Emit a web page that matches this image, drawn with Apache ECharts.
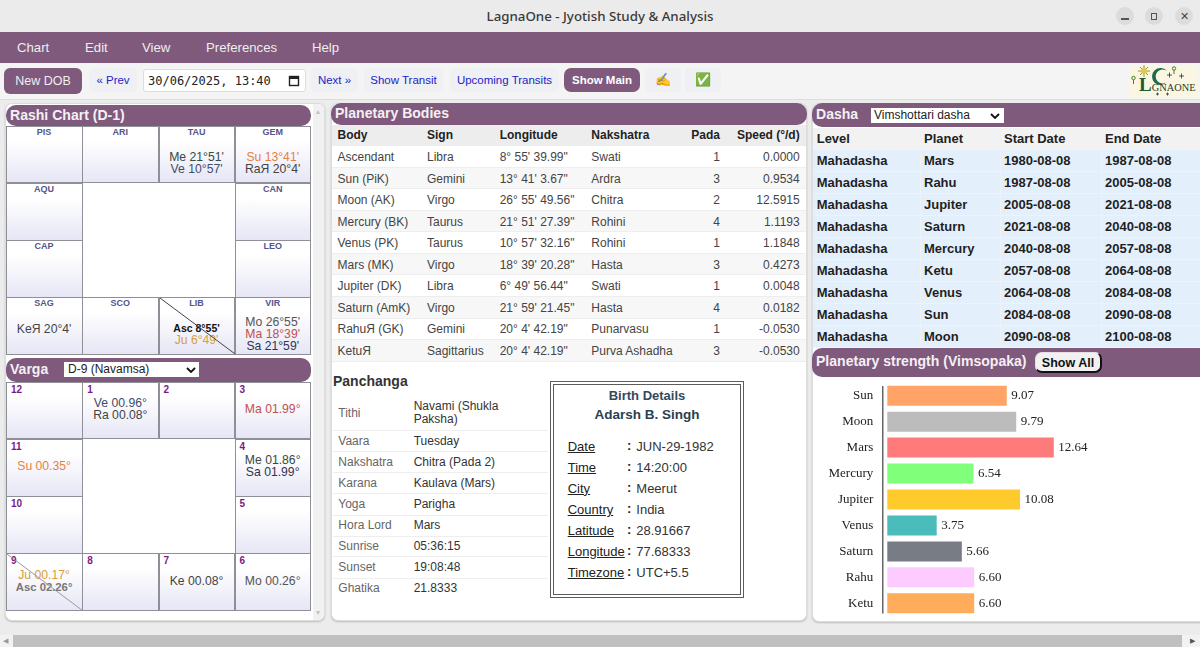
<!DOCTYPE html>
<html><head><meta charset="utf-8"><title>LagnaOne - Jyotish Study &amp; Analysis</title>
<script src="https://cdn.jsdelivr.net/npm/echarts@6/dist/echarts.min.js"></script>
<style>
html,body{margin:0;padding:0;width:1200px;height:647px;overflow:hidden;background:#ececec;font-family:"Liberation Sans",Arial,sans-serif;color:#333}
.a{position:absolute;white-space:nowrap}
.panel{position:absolute;background:#fff;border:1px solid #ddd;border-radius:7px;box-shadow:0 1px 2px #bbb;box-sizing:border-box}
.head{position:absolute;background:#805a7d;color:#f4f0f4;font-weight:bold;font-size:14.05px;border-radius:10px;box-sizing:border-box}
.btn{position:absolute;background:#eef0f3;color:#2323c8;font-size:11.5px;text-align:center;border-radius:5px;height:24px;line-height:24px;top:68px}
.cell{position:absolute;box-sizing:border-box;border:1px solid #8f8f98;background:linear-gradient(#fff 25%,#e6e6f6);text-align:center;overflow:hidden}
.sel{position:absolute;background:#fff;color:#222;font-size:12px;box-sizing:border-box;padding-left:4px}
u{text-underline-offset:1px}
</style></head><body>
<div id="root"></div>
<div id="strength" style="position:absolute;left:813px;top:378px;width:387px;height:243px"></div>
<script>
// ---- data ----
const strengthPlanets = ["Sun","Moon","Mars","Mercury","Jupiter","Venus","Saturn","Rahu","Ketu"];
const strengthValues = [9.07,9.79,12.64,6.54,10.08,3.75,5.66,6.60,6.60];
const strengthColors = ["#ffa366","#bcbcbc","#ff7b7b","#80ff7a","#ffca2c","#4bbcbc","#787c85","#fccbff","#ffad5a"];
const menuItems = [["Chart",17],["Edit",85],["View",142],["Preferences",206],["Help",312]];
const bodyHeader = ["Body","Sign","Longitude","Nakshatra","Pada","Speed (°/d)"];
const bodyRows = [
 ["Ascendant","Libra","8° 55' 39.99\"","Swati","1","0.0000"],
 ["Sun (PiK)","Gemini","13° 41' 3.67\"","Ardra","3","0.9534"],
 ["Moon (AK)","Virgo","26° 55' 49.56\"","Chitra","2","12.5915"],
 ["Mercury (BK)","Taurus","21° 51' 27.39\"","Rohini","4","1.1193"],
 ["Venus (PK)","Taurus","10° 57' 32.16\"","Rohini","1","1.1848"],
 ["Mars (MK)","Virgo","18° 39' 20.28\"","Hasta","3","0.4273"],
 ["Jupiter (DK)","Libra","6° 49' 56.44\"","Swati","1","0.0048"],
 ["Saturn (AmK)","Virgo","21° 59' 21.45\"","Hasta","4","0.0182"],
 ["RahuЯ (GK)","Gemini","20° 4' 42.19\"","Punarvasu","1","-0.0530"],
 ["KetuЯ","Sagittarius","20° 4' 42.19\"","Purva Ashadha","3","-0.0530"]];
const panchangaRows = [["Tithi","Navami (Shukla<br>Paksha)"],["Vaara","Tuesday"],["Nakshatra","Chitra (Pada 2)"],["Karana","Kaulava (Mars)"],["Yoga","Parigha"],["Hora Lord","Mars"],["Sunrise","05:36:15"],["Sunset","19:08:48"],["Ghatika","21.8333"]];
const birthRows = [["Date","JUN-29-1982"],["Time","14:20:00"],["City","Meerut"],["Country","India"],["Latitude","28.91667"],["Longitude","77.68333"],["Timezone","UTC+5.5"]];
const dashaHeader = ["Level","Planet","Start Date","End Date"];
const dashaRows = [["Mars","1980-08-08","1987-08-08"],["Rahu","1987-08-08","2005-08-08"],["Jupiter","2005-08-08","2021-08-08"],["Saturn","2021-08-08","2040-08-08"],["Mercury","2040-08-08","2057-08-08"],["Ketu","2057-08-08","2064-08-08"],["Venus","2064-08-08","2084-08-08"],["Sun","2084-08-08","2090-08-08"],["Moon","2090-08-08","2100-08-08"]];
const C = {Su:"#e9803c",Ma:"#c2514e",Me:"#3a4a40",Ve:"#3f4c68",Ra:"#444",Ju:"#d99c40",Sa:"#33334f",Mo:"#555",Ke:"#444",AscD:"#111",AscV:"#777"};
// [col,row,label,[[text,colorKey,boldSize]...],diagonal]
const rashiCells = [
 [0,0,"PIS",[]],[1,0,"ARI",[]],[2,0,"TAU",[["Me 21°51'","Me"],["Ve 10°57'","Ve"]]],[3,0,"GEM",[["Su 13°41'","Su"],["RaЯ 20°4'","Ra"]]],
 [0,1,"AQU",[]],[3,1,"CAN",[]],[0,2,"CAP",[]],[3,2,"LEO",[]],
 [0,3,"SAG",[["KeЯ 20°4'","Ke"]]],[1,3,"SCO",[]],[2,3,"LIB",[["Asc 8°55'","AscD",10.5],["Ju 6°49'","Ju"]],"#444"],[3,3,"VIR",[["Mo 26°55'","Mo"],["Ma 18°39'","Ma"],["Sa 21°59'","Sa"]]]];
const vargaCells = [
 [0,0,"12",[]],[1,0,"1",[["Ve 00.96°","Ve"],["Ra 00.08°","Ra"]]],[2,0,"2",[]],[3,0,"3",[["Ma 01.99°","Ma"]]],
 [0,1,"11",[["Su 00.35°","Su"]]],[3,1,"4",[["Me 01.86°","Me"],["Sa 01.99°","Sa"]]],[0,2,"10",[]],[3,2,"5",[]],
 [0,3,"9",[["Ju 00.17°","Ju"],["Asc 02.26°","AscV",11.3]],"#999"],[1,3,"8",[]],[2,3,"7",[["Ke 00.08°","Ke"]]],[3,3,"6",[["Mo 00.26°","Mo"]]]];

// ---- page chrome ----
let h = "";
const put = (x,y,txt,st="") => { h += `<div class="a" style="left:${x}px;top:${y}px;${st}">${txt}</div>`; };
const box = (x,y,w,hh,st="") => { h += `<div style="position:absolute;left:${x}px;top:${y}px;width:${w}px;height:${hh}px;${st}"></div>`; };
const line = (x,yc,txt,size,st="") => put(x,yc-10,txt,`font-size:${size}px;line-height:20px;${st}`);
const rline = (xr,yc,txt,size,st="") => { h += `<div class="a" style="right:${1200-xr}px;top:${yc-10}px;font-size:${size}px;line-height:20px;${st}">${txt}</div>`; };
const cline = (x0,w,yc,txt,size,st="") => { h += `<div class="a" style="left:${x0}px;width:${w}px;text-align:center;top:${yc-10}px;font-size:${size}px;line-height:20px;${st}">${txt}</div>`; };

// title bar
box(0,0,1200,32,"background:#ebebeb");
cline(0,1200,16,"LagnaOne - Jyotish Study &amp; Analysis",13.3,"font-family:'Noto Sans';font-weight:500;color:#3a3a3a");
[1125,1154,1184].forEach(x=>box(x-9,7,18,18,"background:#dcdcdc;border-radius:50%"));
box(1121,18,8,1.5,"background:#555");
box(1151,13,6,7,"border:1px solid #555;box-sizing:border-box");
cline(1174,20,16,"✕",11,"color:#444");
// menu
box(0,32,1200,31,"background:#805a7d");
menuItems.forEach(m=>line(m[1],48,m[0],13.2,"color:#eee"));
// toolbar
box(0,63,1200,37,"background:#f4f4f4;border-bottom:1px solid #ddd;box-sizing:border-box");
h += `<div class="btn" style="left:4px;width:78px;top:68px;height:26px;line-height:26px;background:#805a7d;color:#eee;font-size:12.5px;border-radius:6px">New DOB</div>`;
[["« Prev",89,48],["Next »",311,47],["Show Transit",364,79],["Upcoming Transits",450,109]].forEach(b=>{
  h += `<div class="btn" style="left:${b[1]}px;width:${b[2]}px">${b[0]}</div>`;
});
h += `<div class="btn" style="left:564px;width:76px;background:#805a7d;color:#fff;font-weight:bold;border-radius:7px">Show Main</div>`;
h += `<div class="btn" style="left:645px;width:36px;color:#c98a2a;font-size:13px">✍️</div>`;
h += `<div class="btn" style="left:685px;width:36px;font-size:13px">✅</div>`;
box(143,69,163,23,"background:#fff;border:1px solid #ddd;border-radius:3px;box-sizing:border-box");
line(148,80.5,"30/06/2025, 13:40",12,"font-family:'DejaVu Sans Mono';color:#222");
h += `<svg style="position:absolute;left:288px;top:74px" width="12" height="13"><rect x="1.5" y="2.5" width="9" height="9" fill="none" stroke="#222" stroke-width="1.4"/><rect x="1" y="2" width="10" height="3" fill="#222"/></svg>`;
// logo
h += `<svg style="position:absolute;left:1130px;top:65px" width="67" height="32" viewBox="0 0 67 32">
<rect width="67" height="32" fill="#fbf6e2"/>
<g stroke="#9a9a30" stroke-width="1"><path d="M14 0V12M8 6H20M10 2L18 10M18 2L10 10"/></g><circle cx="14" cy="6" r="3" fill="#e0c850"/>
<path d="M37 6a8.5 8.5 0 1 0 0 11a7 7 0 1 1 0-11z" fill="#1f6a4a"/>
<text x="9" y="25.5" font-family="Liberation Serif" font-weight="bold" font-size="19" fill="#1f5a2a">L<tspan font-size="10.4" font-weight="normal" fill="#23402a">GNAONE</tspan></text>
<circle cx="3.5" cy="13" r="1.7" fill="none" stroke="#4a7a2a"/><path d="M3.5 15V19" stroke="#4a7a2a"/>
<circle cx="44" cy="3.5" r="1.7" fill="none" stroke="#4a7a2a"/><path d="M44 5V9" stroke="#4a7a2a"/>
<path d="M37 10h5M39.500 7.500v5M49 11h5M51.500 8.500v5M26 29h3M27.500 27.500v3M36 29h3M37.500 27.500v3" stroke="#1f3a1f" stroke-width="0.8"/>
</svg>`;

// ---- left panel ----
h += `<div class="panel" style="left:5px;top:103px;width:320px;height:518px"></div>`;
box(313,104,11,516,"background:#f1f1f1;border-radius:0 6px 6px 0");
put(314.5,107,"▲","font-size:7px;color:#c4c4c4;line-height:10px");
put(314.5,608,"▼","font-size:7px;color:#c4c4c4;line-height:10px");
h += `<div class="head" style="left:6px;top:105px;width:305px;height:21px;line-height:20px;padding-left:4px">Rashi Chart (D-1)</div>`;
h += `<div class="head" style="left:6px;top:358px;width:305px;height:24px;line-height:23px;padding-left:4px">Varga</div>`;
h += `<div class="sel" style="left:64px;top:362px;width:135px;height:15px;line-height:15px">D-9 (Navamsa)</div>`;
h += `<svg style="position:absolute;left:186px;top:367px" width="10" height="6"><path d="M1 1L5 5L9 1" fill="none" stroke="#111" stroke-width="1.8"/></svg>`;
const gx=[6,82.2,158.5,234.6,310.8];
function grid(cells,ys,kind){
  cells.forEach(c=>{
    const x=gx[c[0]],y=ys[c[1]],w=gx[c[0]+1]-x,hh=ys[c[1]+1]-y;
    h += `<div class="cell" style="left:${x}px;top:${y}px;width:${w+0.6}px;height:${hh+0.6}px"></div>`;
    if(kind==="r") cline(x,w,y+5.7,c[2],9,"font-weight:bold;color:#55558a");
    else put(x+5,y-2,c[2],"font-size:10px;line-height:20px;font-weight:bold;color:#7a1a86");
    const n=c[3].length;
    const cy=y+hh/2;
    const mid = kind==="r" ? cy+(n===1?3:8.5) : cy-1;
    const st = kind==="r"?12.4:12.2;
    c[3].forEach((t,i)=>{
      cline(x,w,mid+(i-(n-1)/2)*st,t[0],t[2]||12.2,`color:${C[t[1]]};${t[2]?"font-weight:bold;":""}`);
    });
    if(c[4]) h += `<svg style="position:absolute;left:${x}px;top:${y}px" width="${w}" height="${hh}"><line x1="1" y1="1" x2="${w}" y2="${hh}" stroke="${c[4]}" stroke-width="1"/></svg>`;
  });
}
grid(rashiCells,[126,182.8,240,297,354],"r");
grid(vargaCells,[381.7,438.7,496,553,610.3],"v");

// ---- centre panel ----
h += `<div class="panel" style="left:331px;top:103px;width:476px;height:518px"></div>`;
h += `<div class="head" style="left:331px;top:103px;width:476px;height:22px;line-height:21px;padding-left:4px;border-radius:10px">Planetary Bodies</div>`;
box(332,125,474,21.5,"background:#ededed");
const bx=[337.5,427,499.7,591.3];
bodyHeader.forEach((t,i)=>{
  if(i<4) line(bx[i],135,t,12,"font-weight:bold;color:#222");
  else rline(i===4?720:799.7,135,t,12,"font-weight:bold;color:#222");
});
bodyRows.forEach((r,j)=>{
  const yc=157+j*21.55;
  box(332,yc-10.8,474,21.55,`box-sizing:border-box;border-bottom:1px solid #eee;background:${j%2?"#f7f7f7":"#fff"}`);
  r.forEach((t,i)=>{
    if(i<4) line(bx[i],yc,t,12,"color:#444");
    else rline(i===4?720:799.7,yc,t,12,"color:#444");
  });
});
line(333,381,"Panchanga",14,"font-weight:bold;color:#333");
const py=[412.7,441,462,483,504.3,525.3,546,567.3,588.3];
panchangaRows.forEach((r,j)=>{
  line(338.3,py[j],r[0],12,"color:#666");
  if(j===0){ h+=`<div class="a" style="left:413.7px;top:399.5px;font-size:12px;line-height:13.6px;color:#333">${r[1]}</div>`; }
  else line(413.7,py[j],r[1],12,"color:#333");
  if(j<8) box(333,(j===0?430:py[j]+10.4),215,1,"background:#eee");
});
// birth box
box(550,381,194,216.5,"box-sizing:border-box;border:4px double #5c5c5c;background:#fff");
cline(550,194,396.3,"Birth Details",13,"font-weight:bold;color:#34495e");
cline(550,194,415,"Adarsh B. Singh",13.5,"font-weight:bold;color:#2c3e50");
birthRows.forEach((r,j)=>{
  const yc=446.7+j*21.1;
  line(567.7,yc,`<u>${r[0]}</u>`,13,"color:#222");
  line(627,yc-1,":",13,"font-weight:bold;color:#222");
  line(636.3,yc,r[1],13,"color:#333");
});

// ---- right panel ----
h += `<div class="panel" style="left:812px;top:103px;width:400px;height:518.5px"></div>`;
box(813,128,387,22,"background:#f2f2f2");
const dx=[816.7,924,1004,1105];
dashaHeader.forEach((t,i)=>line(dx[i],139,t,13,"font-weight:bold;color:#222"));
dashaRows.forEach((r,j)=>{
  const yc=161+j*22;
  box(813,yc-11,387,22,"background:#e3f0fc;box-sizing:border-box;border-bottom:1px solid #eef3f8");
  ["Mahadasha"].concat(r).forEach((t,i)=>line(dx[i],yc,t,13,"font-weight:bold;color:#1f1f1f"));
});
[920.3,1000.3,1101.3].forEach(x=>box(x,128,1,220,"background:#eef1f5"));
h += `<div class="head" style="left:812px;top:103px;width:400px;height:24px;line-height:22px;padding-left:4px">Dasha</div>`;
h += `<div class="sel" style="left:871px;top:108px;width:133px;height:15px;line-height:15px;padding-left:3px">Vimshottari dasha</div>`;
h += `<svg style="position:absolute;left:990px;top:113px" width="10" height="6"><path d="M1 1L5 5L9 1" fill="none" stroke="#111" stroke-width="1.8"/></svg>`;
h += `<div class="head" style="left:812px;top:348px;width:400px;height:29px;line-height:27px;padding-left:4px">Planetary strength (Vimsopaka)</div>`;
h += `<div style="position:absolute;left:1035px;top:352px;width:67px;height:21px;line-height:20px;box-sizing:border-box;text-align:center;background:#f2f0f0;border:1px solid #e6e0e6;border-right:2px solid #111;border-bottom:2px solid #111;border-radius:7px;font-size:12.5px;font-weight:bold;color:#111">Show All</div>`;

// bottom scrollbar
box(0,635,1200,12,"background:#f2f2f2");
box(13,635,1169,12,"background:#c0c0c0");
put(3,636,"◀","font-size:7px;line-height:10px;color:#999");
put(1190,636,"▶","font-size:7px;line-height:10px;color:#555");
document.getElementById("root").innerHTML = h;

// ---- Vimsopaka chart ----
const chart = echarts.init(document.getElementById("strength"));
chart.setOption({
  animation:false,
  grid:{left:74.3,top:4.7,width:263.4,height:233.55},
  xAxis:{type:"value",min:0,max:20,show:false},
  yAxis:{type:"category",inverse:true,data:strengthPlanets,
    axisLine:{show:false},axisTick:{show:false},
    axisLabel:{margin:14,fontFamily:"Liberation Serif",fontSize:13,color:"#222"}},
  series:[{type:"bar",barWidth:20,
    data:strengthValues.map((v,i)=>({value:v,itemStyle:{color:strengthColors[i]}})),
    label:{show:true,position:"right",distance:4.5,fontFamily:"Liberation Serif",fontSize:13,color:"#222",
      formatter:p=>p.value.toFixed(2)}}],
  graphic:[{type:"rect",shape:{x:69,y:8,width:1.5,height:227.5},style:{fill:"#666"},silent:true}]
});
</script>
</body></html>
